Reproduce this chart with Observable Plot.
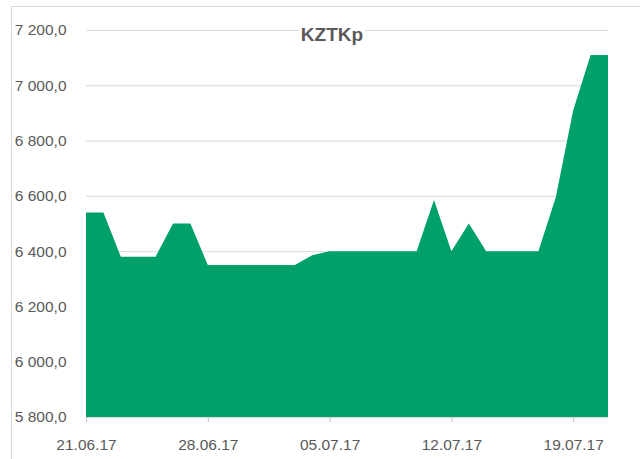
<!DOCTYPE html>
<html>
<head>
<meta charset="utf-8">
<script src="https://cdn.jsdelivr.net/npm/d3@7"></script>
<script src="https://cdn.jsdelivr.net/npm/@observablehq/plot@0.6"></script>
<style>
  html, body { margin: 0; padding: 0; background: #fff; }
  #wrap { position: relative; width: 640px; height: 459px; overflow: hidden; font-family: "Liberation Sans", Arial, sans-serif; }
  #frame { position: absolute; left: 11px; top: 6px; width: 660px; height: 470px; border: 1px solid #d9d9d9; box-sizing: border-box; pointer-events: none; }
  #title { position: absolute; left: 299px; top: 23px; width: 66px; text-align: center; font-size: 19px; font-weight: bold; color: #595959; background: #fff; line-height: 24px; }
  svg { position: absolute; left: 0; top: 0; }
</style>
</head>
<body>
<div id="wrap">
  <div id="frame"></div>
  <div id="chart"></div>
  <div id="title">KZTKp</div>
</div>
<script>
const title = "KZTKp";
const dates = [
  "2017-06-21","2017-06-22","2017-06-23","2017-06-24","2017-06-25","2017-06-26","2017-06-27",
  "2017-06-28","2017-06-29","2017-06-30","2017-07-01","2017-07-02","2017-07-03","2017-07-04",
  "2017-07-05","2017-07-06","2017-07-07","2017-07-08","2017-07-09","2017-07-10","2017-07-11",
  "2017-07-12","2017-07-13","2017-07-14","2017-07-15","2017-07-16","2017-07-17","2017-07-18",
  "2017-07-19","2017-07-20","2017-07-21"
];
const values = [
  6540, 6540, 6380, 6380, 6380, 6500, 6500,
  6350, 6350, 6350, 6350, 6350, 6350, 6385,
  6400, 6400, 6400, 6400, 6400, 6400, 6585,
  6400, 6500, 6400, 6400, 6400, 6400, 6595,
  6910, 7110, 7110
];
const xTicks = ["2017-06-21","2017-06-28","2017-07-05","2017-07-12","2017-07-19"];
const yTicks = [5800, 6000, 6200, 6400, 6600, 6800, 7000, 7200];

document.getElementById("title").textContent = title;

const data = dates.map((d, i) => ({date: new Date(d), value: values[i]}));
const loc = d3.formatLocale({decimal: ",", thousands: " ", grouping: [3], currency: ["", ""]});
const yFmt = loc.format(",.1f");
const xFmt = d3.utcFormat("%d.%m.%y");

const chart = Plot.plot({
  width: 640,
  height: 459,
  marginLeft: 86,
  marginRight: 32,
  marginTop: 30,
  marginBottom: 42,
  style: {fontFamily: "'Liberation Sans', Arial, sans-serif", fontSize: "15.5px", color: "#595959", background: "transparent"},
  x: {type: "utc", domain: [new Date(dates[0]), new Date(dates[dates.length - 1])]},
  y: {domain: [5800, 7200]},
  marks: [
    Plot.gridY(yTicks, {stroke: "#d9d9d9", strokeOpacity: 1, strokeWidth: 1}),
    Plot.areaY(data, {x: "date", y1: 5800, y2: "value", fill: "#00a06d", curve: "linear"}),
    Plot.ruleY([5800], {stroke: "#d9d9d9", strokeWidth: 1}),
    Plot.axisY(yTicks, {tickFormat: yFmt, tickSize: 0, tickPadding: 20, fill: "#595959", label: null}),
    Plot.axisX(xTicks.map(d => new Date(d)), {tickFormat: xFmt, tickSize: 5, tickPadding: 16, stroke: "#bfbfbf", fill: "#595959", label: null})
  ]
});
document.getElementById("chart").appendChild(chart);
</script>
</body>
</html>
